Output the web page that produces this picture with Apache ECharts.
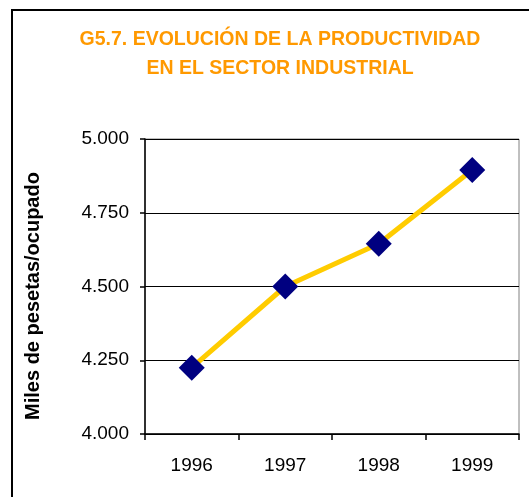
<!DOCTYPE html>
<html>
<head>
<meta charset="utf-8">
<script src="https://cdn.jsdelivr.net/npm/echarts@6/dist/echarts.min.js"></script>
<style>
  html, body { margin: 0; padding: 0; background: #fff; }
  #chart { width: 529px; height: 497px; }
</style>
</head>
<body>
<div id="chart"></div>
<script>
// datos
const years = ["1996", "1997", "1998", "1999"];
const productividad = [4225, 4500, 4645, 4895];

const chart = echarts.init(document.getElementById("chart"));

// 4000 -> "4.000"
function miles(v) {
  return String(v).replace(/\B(?=(\d{3})+(?!\d))/g, ".");
}

const fuente = "Liberation Sans, Arial, sans-serif";

const option = {
  animation: false,
  backgroundColor: "#fff",
  title: {
    text: "G5.7. EVOLUCIÓN DE LA PRODUCTIVIDAD\nEN EL SECTOR INDUSTRIAL",
    left: 275,
    top: 20,
    textAlign: "center",
    textStyle: {
      color: "#FF9900",
      fontFamily: fuente,
      fontWeight: "bold",
      fontSize: 19.5,
      lineHeight: 29
    }
  },
  graphic: [
    // marco exterior
    {
      type: "rect",
      shape: { x: 12, y: 10, width: 530, height: 500 },
      style: { fill: "none", stroke: "#000", lineWidth: 2 },
      silent: true
    },
    // titulo del eje Y
    {
      type: "text",
      x: 33,
      y: 296,
      rotation: Math.PI / 2,
      style: {
        text: "Miles de pesetas/ocupado",
        fill: "#000",
        font: "bold 20px " + fuente,
        align: "center",
        verticalAlign: "middle"
      },
      silent: true
    }
  ],
  grid: {
    left: 145,
    right: 10,
    top: 139,
    bottom: 63,
    show: true,
    borderColor: "#808080",
    borderWidth: 1
  },
  xAxis: {
    type: "category",
    data: years,
    boundaryGap: true,
    axisLine: { lineStyle: { color: "#000", width: 1.5 } },
    axisTick: { show: true, length: 6, lineStyle: { color: "#000", width: 1.5 } },
    axisLabel: {
      color: "#000",
      fontFamily: fuente,
      fontSize: 19,
      margin: 22
    }
  },
  yAxis: {
    type: "value",
    min: 4000,
    max: 5000,
    interval: 250,
    axisLine: { show: true, lineStyle: { color: "#000", width: 1.5 } },
    axisTick: { show: true, length: 5, lineStyle: { color: "#000", width: 1.5 } },
    axisLabel: {
      color: "#000",
      fontFamily: fuente,
      fontSize: 19,
      margin: 16,
      formatter: miles
    },
    splitLine: { show: true, lineStyle: { color: "#000", width: 1 } }
  },
  series: [
    {
      type: "line",
      data: productividad,
      symbol: "diamond",
      symbolSize: 26,
      lineStyle: { color: "#FFCC00", width: 5 },
      itemStyle: { color: "#000080" },
      z: 3
    }
  ]
};

chart.setOption(option);
</script>
</body>
</html>
